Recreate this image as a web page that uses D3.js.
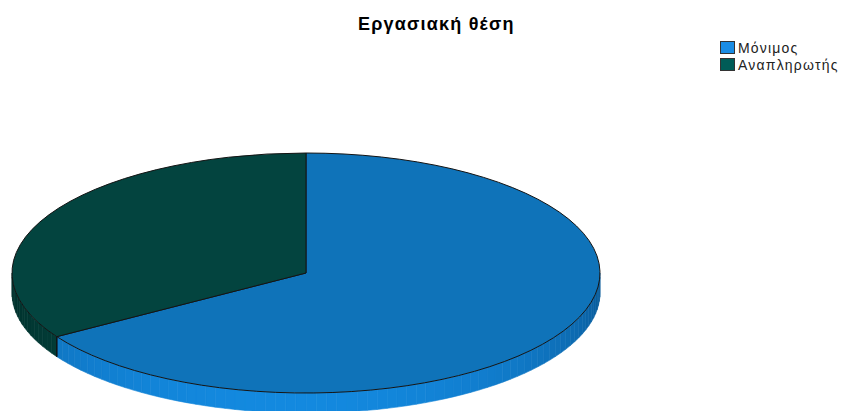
<!DOCTYPE html>
<html>
<head>
<meta charset="utf-8">
<script src="https://cdn.jsdelivr.net/npm/d3@7"></script>
<style>
  body { margin: 0; background: #ffffff; }
  svg { display: block; }
</style>
</head>
<body>
<svg id="chart" width="844" height="411"></svg>
<script>
// ---- data ----
const chartTitle = "Εργασιακή θέση";
const categories = ["Μόνιμος", "Αναπληρωτής"];
const values = [66.1, 33.9];

// ---- colours per category ----
const topColors = ["#0f73b9", "#03443f"];
const swatchColors = ["#1a8ce4", "#005c57"];
const wallDark = ["#0a5c9b", "#012e2a"];
const wallLight = ["#1389df", "#02443e"];

const svg = d3.select("#chart");

// ellipse geometry of the tilted pie
const cx = 306, cy = 273, rx = 294, ry = 120, depth = 20;

// angles start at 12 o'clock and run clockwise, same convention as d3.arc
const slices = d3.pie().sort(null).value(d => d)(values);
const arc = d3.arc().innerRadius(0).outerRadius(rx);
const pt = (a, dy = 0) => [cx + rx * Math.sin(a), cy - ry * Math.cos(a) + dy];

// ---- side wall (only the front half is visible) ----
const wallG = svg.append("g");
const lightDir = 185 * Math.PI / 180;
slices.forEach((s, i) => {
  const a0 = Math.max(s.startAngle, Math.PI / 2);
  const a1 = Math.min(s.endAngle, 3 * Math.PI / 2);
  if (a1 <= a0) return;
  const n = Math.ceil((a1 - a0) / (Math.PI / 90));
  const shade = d3.interpolateRgb(wallDark[i], wallLight[i]);
  d3.range(n).forEach(k => {
    const t0 = a0 + (a1 - a0) * k / n;
    const t1 = a0 + (a1 - a0) * (k + 1) / n;
    const f = Math.max(0, Math.cos((t0 + t1) / 2 - lightDir));
    const c = shade(f);
    wallG.append("path")
      .attr("d", d3.line()([pt(t0), pt(t1), pt(t1, depth), pt(t0, depth)]) + "Z")
      .attr("fill", c)
      .attr("stroke", c)
      .attr("stroke-width", 0.6);
  });
});

// edges where slices meet on the visible wall
slices.forEach(s => {
  [s.startAngle, s.endAngle].forEach(a => {
    if (a > Math.PI / 2 && a < 3 * Math.PI / 2) {
      wallG.append("line")
        .attr("x1", pt(a)[0]).attr("y1", pt(a)[1])
        .attr("x2", pt(a, depth)[0]).attr("y2", pt(a, depth)[1])
        .attr("stroke", "#111")
        .attr("stroke-width", 1);
    }
  });
});

// ---- top faces ----
const topG = svg.append("g")
  .attr("transform", `translate(${cx},${cy}) scale(1,${ry / rx})`);
topG.selectAll("path")
  .data(slices)
  .join("path")
  .attr("d", arc)
  .attr("fill", (d, i) => topColors[i])
  .attr("stroke", "#141414")
  .attr("stroke-width", 1)
  .attr("stroke-linejoin", "round")
  .attr("vector-effect", "non-scaling-stroke");

// ---- title ----
svg.append("text")
  .attr("x", 358)
  .attr("y", 30)
  .attr("font-family", "Liberation Sans, Arial, sans-serif")
  .attr("font-weight", "bold")
  .attr("font-size", 18)
  .attr("letter-spacing", 1.2)
  .attr("fill", "#000")
  .text(chartTitle);

// ---- legend ----
const legend = svg.append("g").attr("transform", "translate(720,41)");
const rows = legend.selectAll("g")
  .data(categories)
  .join("g")
  .attr("transform", (d, i) => `translate(0,${i * 17})`);
rows.append("rect")
  .attr("x", 0.5).attr("y", 0.5)
  .attr("width", 14).attr("height", 12)
  .attr("fill", (d, i) => swatchColors[i])
  .attr("stroke", "#333")
  .attr("stroke-width", 1);
rows.append("text")
  .attr("x", 18)
  .attr("y", 11.5)
  .attr("font-family", "Liberation Sans, Arial, sans-serif")
  .attr("font-size", 14)
  .attr("letter-spacing", 1.2)
  .attr("fill", "#222")
  .text(d => d);
</script>
</body>
</html>
